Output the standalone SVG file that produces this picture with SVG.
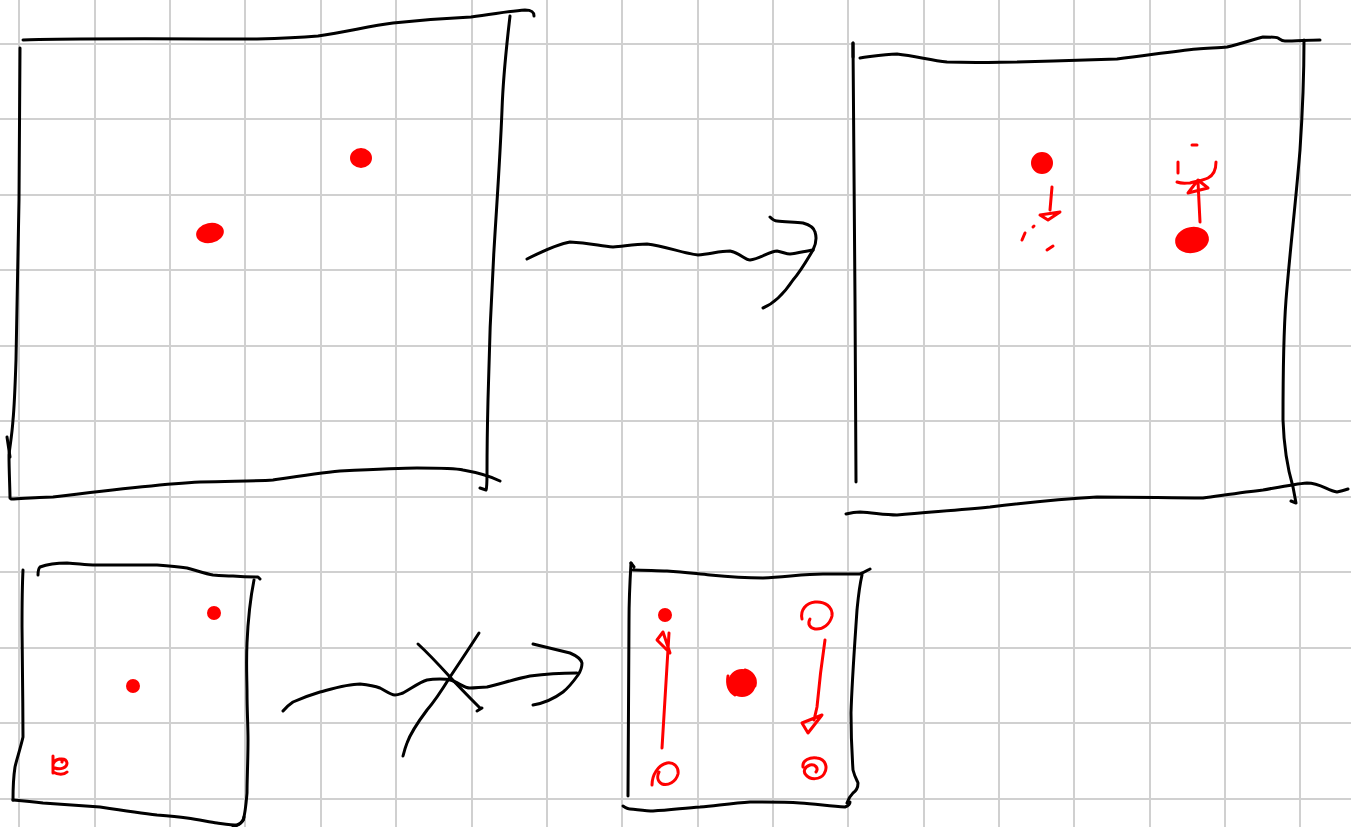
<svg xmlns="http://www.w3.org/2000/svg" width="1351" height="827" viewBox="0 0 1351 827">
<style>
.grid line{stroke:#d0d0d0;stroke-width:2}
.ink{fill:none;stroke:#000;stroke-width:3;stroke-linecap:round;stroke-linejoin:round}
.red{fill:none;stroke:#f00;stroke-width:3;stroke-linecap:round;stroke-linejoin:round}
.dot{fill:#f00;stroke:#f00;stroke-width:2}
</style>
<rect width="1351" height="827" fill="#fff"/>
<g class="grid">
<line x1="19" y1="0" x2="19" y2="827"/><line x1="95" y1="0" x2="95" y2="827"/><line x1="170" y1="0" x2="170" y2="827"/><line x1="245" y1="0" x2="245" y2="827"/><line x1="321" y1="0" x2="321" y2="827"/><line x1="396" y1="0" x2="396" y2="827"/><line x1="472" y1="0" x2="472" y2="827"/><line x1="547" y1="0" x2="547" y2="827"/><line x1="622" y1="0" x2="622" y2="827"/><line x1="698" y1="0" x2="698" y2="827"/><line x1="773" y1="0" x2="773" y2="827"/><line x1="848" y1="0" x2="848" y2="827"/><line x1="924" y1="0" x2="924" y2="827"/><line x1="999" y1="0" x2="999" y2="827"/><line x1="1074" y1="0" x2="1074" y2="827"/><line x1="1150" y1="0" x2="1150" y2="827"/><line x1="1225" y1="0" x2="1225" y2="827"/><line x1="1300" y1="0" x2="1300" y2="827"/>
<line x1="0" y1="44" x2="1351" y2="44"/><line x1="0" y1="119" x2="1351" y2="119"/><line x1="0" y1="195" x2="1351" y2="195"/><line x1="0" y1="270" x2="1351" y2="270"/><line x1="0" y1="346" x2="1351" y2="346"/><line x1="0" y1="421" x2="1351" y2="421"/><line x1="0" y1="497" x2="1351" y2="497"/><line x1="0" y1="572" x2="1351" y2="572"/><line x1="0" y1="648" x2="1351" y2="648"/><line x1="0" y1="723" x2="1351" y2="723"/><line x1="0" y1="799" x2="1351" y2="799"/>
</g>

<g id="box1">
<path class="ink" d="M23,40 C60,38 200,39 257,39 C290,38 305,37 318,36 C350,31 370,26 393,23 C430,19 450,18 471,17 C495,14 510,11 525,10 C532,10 534,12 534,16"/>
<path class="ink" d="M510,16 C506,50 503,80 502,110 C500,160 497,200 494,250 C491,300 489,350 488,400 C487,440 487,470 487,473 C487,482 487,488 486,490 L480,488"/>
<path class="ink" d="M11,499 C30,498 45,497 53,497 C110,490 160,484 200,482 C240,481 260,481 273,480 C300,476 320,473 340,471 C380,469 400,468 417,468 C440,468 455,468 463,470 C480,473 492,477 500,481"/>
<path class="ink" d="M20,48 C20,100 19,150 19,200 C18,260 17,320 16,360 C15,390 14,410 13,420 C12,435 10,445 9,455 C9,470 10,490 10,498"/>
<path class="ink" d="M7,437 L10,457"/>
<ellipse class="dot" cx="361" cy="158" rx="10" ry="9"/>
<ellipse class="dot" cx="210" cy="233" rx="13" ry="9" transform="rotate(-12 210 233)"/>
</g>

<g id="box2">
<path class="ink" d="M853,43 L853,57 M860,58 C875,56 885,54 897,54 C915,56 930,60 947,62 C980,63 1000,62 1017,62 C1050,61 1090,60 1117,59 C1150,55 1175,51 1197,49 C1210,48 1220,48 1227,47 C1240,44 1255,39 1263,37 C1270,37 1276,37 1278,38 C1281,40 1282,41 1285,41 C1295,41 1310,40 1320,40"/>
<path class="ink" d="M1304,40 C1304,80 1302,120 1300,150 C1296,200 1290,250 1286,300 C1283,340 1283,380 1283,420 C1284,450 1288,470 1293,487 L1296,503 L1291,501"/>
<path class="ink" d="M846,514 C850,513 855,512 860,512 C875,513 885,515 897,515 C930,512 960,510 990,507 C1030,502 1060,499 1097,497 C1140,497 1170,498 1203,498 C1225,495 1245,492 1263,490 C1280,487 1295,484 1307,483 C1320,483 1327,490 1337,492 C1342,491 1345,490 1348,489"/>
<path class="ink" d="M853,43 C854,100 855,200 855,300 C855,380 856,440 856,482"/>
<circle class="dot" cx="1042" cy="163" r="10"/>
<path class="red" d="M1052,187 L1050,210 M1040,215 L1060,212 L1048,220 Z M1022,240 L1025,233 M1033,227 L1034,226 M1047,250 L1053,246"/>
<path class="red" d="M1192,145 L1197,145 M1178,162 L1178,173 M1177,182 C1182,184 1186,183 1190,183 C1198,181 1204,180 1208,178 C1214,175 1216,170 1216,162 M1198,180 L1188,193 L1208,188 Z M1198,182 L1200,222"/>
<ellipse class="dot" cx="1192" cy="240" rx="16" ry="12" transform="rotate(-10 1192 240)"/>
</g>

<g id="box3">
<path class="ink" d="M38,575 C38,570 39,568 40,567 C48,564 58,563 67,563 C80,564 88,565 93,565 C120,565 140,565 157,565 C170,566 180,567 187,568 C198,571 206,574 213,575 C225,576 230,576 233,576 C245,577 253,577 258,577 L260,579"/>
<path class="ink" d="M254,580 C250,600 248,620 247,643 C246,665 247,680 247,693 C247,710 248,725 248,740 C248,760 247,780 247,793 C246,805 245,815 243,820 C240,825 237,826 233,826"/>
<path class="ink" d="M13,800 C25,801 35,802 43,803 C70,805 85,806 100,807 C120,810 140,813 157,815 C170,816 180,817 187,818 C200,820 210,822 217,823 C225,824 232,825 237,825 C242,823 244,820 244,817"/>
<path class="ink" d="M23,570 C22,590 22,610 22,627 C22,660 23,700 23,737 C20,750 17,758 15,767 C13,780 13,790 13,800"/>
<circle class="dot" cx="214" cy="613" r="6"/>
<circle class="dot" cx="133" cy="686" r="6"/>
<path class="red" d="M53,756 L53,773 M53,764 C56,758 66,757 67,763 C67,768 60,770 55,768 M53,772 C58,775 64,775 67,772 M56,760 C60,758 63,760 62,762"/>
</g>

<g id="box4">
<path class="ink" d="M631,563 L634,567 M633,570 C645,570 657,571 667,571 C685,572 698,574 710,575 C730,577 748,578 763,578 C785,577 805,574 823,574 C838,574 850,574 860,574 C865,572 868,570 870,569"/>
<path class="ink" d="M862,575 C859,588 858,600 857,610 C855,640 852,680 851,713 C851,740 852,755 853,770 C855,778 858,782 858,783 C858,788 856,791 853,793 C850,796 848,800 847,803"/>
<path class="ink" d="M623,806 C626,808 628,809 630,809 C640,810 647,811 653,811 C670,810 685,808 700,807 C720,805 735,803 750,802 C770,802 785,802 800,803 C815,804 830,806 845,807 C848,806 850,804 850,802"/>
<path class="ink" d="M631,563 C630,580 629,600 629,620 C629,680 628,740 628,796"/>
<circle class="dot" cx="665" cy="615" r="6"/>
<path class="red" d="M663,632 L657,640 L670,653 Z M669,633 L662,748"/>
<path class="red" d="M652,785 C652,775 658,765 667,763 C674,762 679,767 678,774 C676,782 668,786 662,784 C657,781 657,776 659,772"/>
<circle class="dot" cx="742" cy="683" r="13"/>
<path class="red" d="M728,676 C727,682 727,690 735,695 M745,670 C752,672 757,678 755,686"/>
<path class="red" d="M802,619 C800,610 806,603 815,602 C825,601 833,607 832,616 C830,624 823,630 815,629 C810,628 807,624 810,619"/>
<path class="red" d="M825,640 C822,660 819,685 817,707 L814,720 M822,715 L802,723 L808,733 Z"/>
<path class="red" d="M803,767 C802,760 810,757 817,758 C826,759 828,768 824,774 C820,780 810,780 806,775 C803,772 804,767 810,765 C815,764 819,768 816,772"/>
</g>

<g id="connectors">
<path class="ink" d="M527,259 C545,250 558,244 570,242 C590,243 600,246 613,247 C625,246 635,244 647,244 C665,246 682,253 698,255 C710,254 720,251 730,251 C740,253 745,260 750,260 C760,259 770,251 777,251 C783,252 786,254 790,254 C798,253 806,251 813,250"/>
<path class="ink" d="M770,217 C772,219 774,221 777,221 C785,222 795,222 803,223 C810,225 814,228 815,232 C817,238 816,244 813,250 C806,262 800,272 793,280 C785,292 775,303 763,308"/>
<path class="ink" d="M283,711 C287,706 290,704 293,702 C302,698 310,695 320,692 C335,688 348,684 360,684 C370,685 375,686 380,688 C386,691 390,695 395,695 C398,695 400,694 403,693 C412,688 420,682 427,680 C432,679 436,679 440,679 C444,679 447,679 450,680 C458,682 464,688 470,688 C476,688 481,687 487,687 C500,684 515,679 530,676 C545,674 560,673 577,673"/>
<path class="ink" d="M533,644 C545,647 558,650 570,653 C577,656 581,659 582,663 C582,668 580,672 578,675 C573,682 568,688 563,692 C555,698 545,703 533,705"/>
<path class="ink" d="M418,644 C430,655 440,666 450,677 C460,688 470,698 480,708 L482,708 L477,711"/>
<path class="ink" d="M479,633 C470,647 460,662 450,677 C442,690 434,702 427,710 C418,722 411,732 407,743 C405,748 404,752 403,756"/>
</g>
</svg>
